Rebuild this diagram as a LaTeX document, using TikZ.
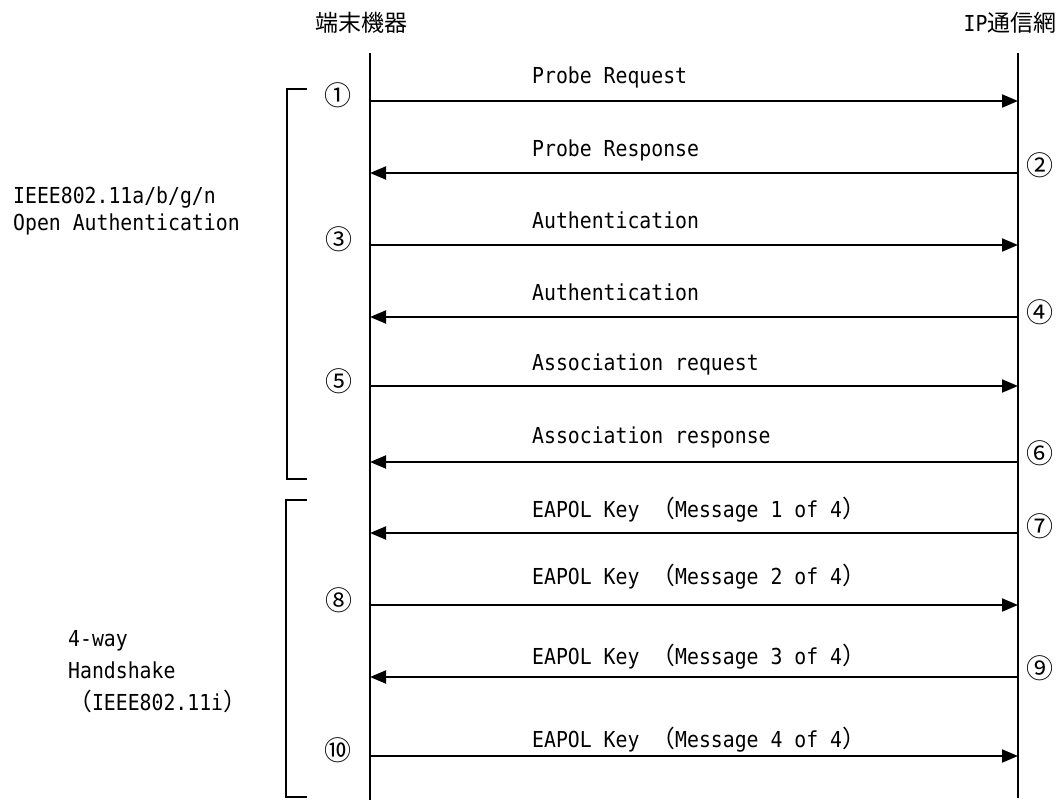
\documentclass[tikz,border=0pt]{standalone}
\usepackage{fontspec}
\usetikzlibrary{arrows.meta}
\newfontfamily\monof[FakeStretch=0.9]{DejaVu Sans Mono}
\newfontfamily\cjkf{Noto Sans CJK JP}
\newcommand{\fwlp}{{\cjkf\fontsize{23.8}{24}\selectfont （}}
\newcommand{\fwrp}{{\cjkf\fontsize{23.8}{24}\selectfont ）}}
\begin{document}
\begin{tikzpicture}[x=1pt,y=-1pt,
  life/.style={line width=1.9pt},
  msg/.style={line width=1.9pt,-{Triangle[length=16pt,width=13pt]}},
  lbl/.style={anchor=west,inner sep=0pt,font=\monof\fontsize{22}{26}\selectfont,text height=16pt,text depth=0pt},
  num/.style={inner sep=0pt,font=\cjkf\fontsize{27}{30}\selectfont},
  brk/.style={line width=1.5pt},
  head/.style={inner sep=0pt,font=\cjkf\fontsize{23}{26}\selectfont}]
\useasboundingbox (0,0) rectangle (1060,800);
% headers
\node[head] (dev) at (361,23) {端末機器};
\node[head] (net) at (1010,23) {{\monof\fontsize{22}{26}\selectfont IP}通信網};
% lifelines
\coordinate (Ltop) at (370,53); \coordinate (Lbot) at (370,800);
\coordinate (Rtop) at (1018,53); \coordinate (Rbot) at (1018,798);
\draw[life] (Ltop) -- (Lbot);
\draw[life] (Rtop) -- (Rbot);
% message anchor points
\foreach \i/\y in {1/101,2/173,3/245,4/317,5/386,6/462,7/533,8/605,9/677,10/756}{
  \coordinate (L\i) at (370,\y);
  \coordinate (R\i) at (1018,\y);
}
\draw[msg] (L1) -- (R1);
\draw[msg] (R2) -- (L2);
\draw[msg] (L3) -- (R3);
\draw[msg] (R4) -- (L4);
\draw[msg] (L5) -- (R5);
\draw[msg] (R6) -- (L6);
\draw[msg] (R7) -- (L7);
\draw[msg] (L8) -- (R8);
\draw[msg] (R9) -- (L9);
\draw[msg] (L10) -- (R10);
% message labels
\node[lbl] (t1) at (532,75) {Probe Request};
\node[lbl] (t2) at (532,148) {Probe Response};
\node[lbl] (t3) at (532,220) {Authentication};
\node[lbl] (t4) at (532,292) {Authentication};
\node[lbl] (t5) at (532,362) {Association request};
\node[lbl] (t6) at (532,435) {Association response};
\node[lbl] (t7) at (532,509) {EAPOL Key \fwlp Message 1 of 4\fwrp};
\node[lbl] (t8) at (532,576) {EAPOL Key \fwlp Message 2 of 4\fwrp};
\node[lbl] (t9) at (532,656) {EAPOL Key \fwlp Message 3 of 4\fwrp};
\node[lbl] (t10) at (532,739) {EAPOL Key \fwlp Message 4 of 4\fwrp};
% step numbers
\node[num] (n1) at (338,95) {①};
\node[num] (n2) at (1040,165) {②};
\node[num] (n3) at (339,239) {③};
\node[num] (n4) at (1040,312) {④};
\node[num] (n5) at (339,381) {⑤};
\node[num] (n6) at (1040,453) {⑥};
\node[num] (n7) at (1040,526) {⑦};
\node[num] (n8) at (339,600) {⑧};
\node[num] (n9) at (1040,668) {⑨};
\node[num] (n10) at (338,750) {⑩};
% brackets
\coordinate (b1a) at (307,89); \coordinate (b1b) at (287,89);
\coordinate (b1c) at (287,479); \coordinate (b1d) at (307,479);
\draw[brk] (b1a) -- (b1b) -- (b1c) -- (b1d);
\coordinate (b2a) at (307,500); \coordinate (b2b) at (286,500);
\coordinate (b2c) at (286,797); \coordinate (b2d) at (307,797);
\draw[brk] (b2a) -- (b2b) -- (b2c) -- (b2d);
% group labels
\node[lbl] (g1a) at (13,195) {IEEE802.11a/b/g/n};
\node[lbl] (g1b) at (13,222) {Open Authentication};
\node[lbl] (g2a) at (68,638) {4-way};
\node[lbl] (g2b) at (68,670) {Handshake};
\node[lbl] (g2c) at (68,702) {\fwlp IEEE802.11i\fwrp};
\end{tikzpicture}
\end{document}
